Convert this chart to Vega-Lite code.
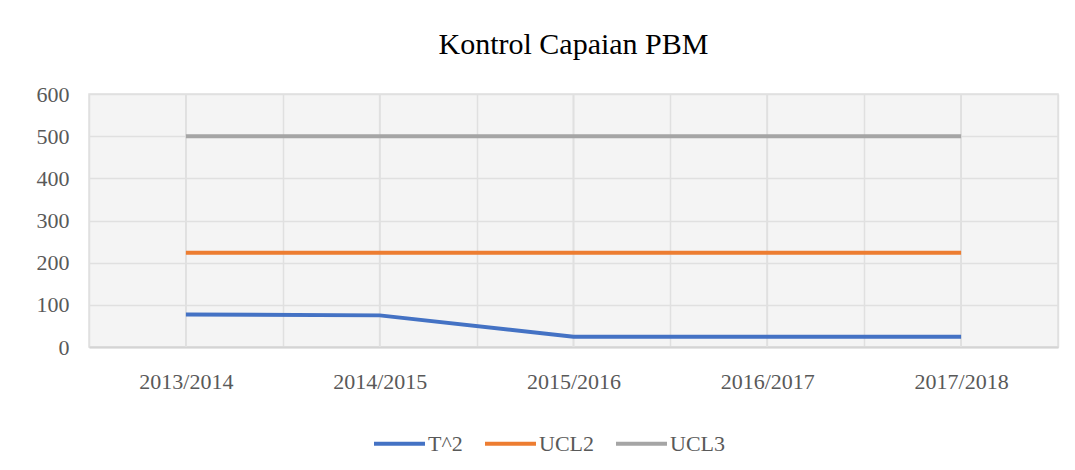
{
  "$schema": "https://vega.github.io/schema/vega-lite/v6.json",
  "width": 969,
  "height": 253,
  "autosize": {"type": "none"},
  "padding": {"left": 89, "top": 94, "right": 17, "bottom": 123},
  "background": "white",
  "title": {
    "text": "Kontrol Capaian PBM",
    "font": "Liberation Serif",
    "fontSize": 30,
    "fontWeight": "normal",
    "color": "#000000",
    "anchor": "middle",
    "offset": 23
  },
  "config": {
    "view": {"stroke": "#e0e0e0", "strokeWidth": 1.5, "fill": "#f4f4f4"}
  },
  "data": {
    "values": [
      {"tahun": "2013/2014", "seri": "T^2", "nilai": 77},
      {"tahun": "2014/2015", "seri": "T^2", "nilai": 75},
      {"tahun": "2015/2016", "seri": "T^2", "nilai": 24.5},
      {"tahun": "2016/2017", "seri": "T^2", "nilai": 24.5},
      {"tahun": "2017/2018", "seri": "T^2", "nilai": 24.5},
      {"tahun": "2013/2014", "seri": "UCL2", "nilai": 223.5},
      {"tahun": "2014/2015", "seri": "UCL2", "nilai": 223.5},
      {"tahun": "2015/2016", "seri": "UCL2", "nilai": 223.5},
      {"tahun": "2016/2017", "seri": "UCL2", "nilai": 223.5},
      {"tahun": "2017/2018", "seri": "UCL2", "nilai": 223.5},
      {"tahun": "2013/2014", "seri": "UCL3", "nilai": 500},
      {"tahun": "2014/2015", "seri": "UCL3", "nilai": 500},
      {"tahun": "2015/2016", "seri": "UCL3", "nilai": 500},
      {"tahun": "2016/2017", "seri": "UCL3", "nilai": 500},
      {"tahun": "2017/2018", "seri": "UCL3", "nilai": 500}
    ]
  },
  "encoding": {
    "x": {
      "field": "tahun",
      "type": "ordinal",
      "bandPosition": 0.5,
      "scale": {"type": "band", "paddingInner": 0, "paddingOuter": 0},
      "axis": {
        "title": null,
        "grid": true,
        "gridColor": "#e0e0e0",
        "gridWidth": 1.5,
        "tickBand": "extent",
        "ticks": false,
        "domain": true,
        "domainColor": "#d4d4d4",
        "domainWidth": 2,
        "labelAngle": 0,
        "labelFont": "Liberation Serif",
        "labelFontSize": 22,
        "labelColor": "#595959",
        "labelPadding": 24
      }
    }
  },
  "layer": [
    {
      "mark": {"type": "rule", "color": "#e0e0e0", "strokeWidth": 1.5},
      "encoding": {}
    },
    {
      "mark": {"type": "line", "strokeWidth": 4, "strokeCap": "butt"},
      "encoding": {
        "y": {
          "field": "nilai",
          "type": "quantitative",
          "scale": {"domain": [0, 600], "nice": false},
          "axis": {
            "title": null,
            "values": [0, 100, 200, 300, 400, 500, 600],
            "grid": true,
            "gridColor": "#e0e0e0",
            "gridWidth": 1.5,
            "ticks": false,
            "domain": false,
            "labelFont": "Liberation Serif",
            "labelFontSize": 22,
            "labelColor": "#595959",
            "labelPadding": 20
          }
        },
        "color": {
          "field": "seri",
          "type": "nominal",
          "scale": {"domain": ["T^2", "UCL2", "UCL3"], "range": ["#4472C4", "#ED7D31", "#A5A5A5"]},
          "legend": {
            "title": null,
            "orient": "none",
            "legendX": 283,
            "legendY": 322,
            "direction": "horizontal",
            "symbolType": "stroke",
            "symbolStrokeWidth": 4,
            "symbolSize": 2600,
            "labelFont": "Liberation Serif",
            "labelFontSize": 22,
            "labelColor": "#595959",
            "labelOffset": 1,
            "columnPadding": 14
          }
        }
      }
    }
  ]
}
